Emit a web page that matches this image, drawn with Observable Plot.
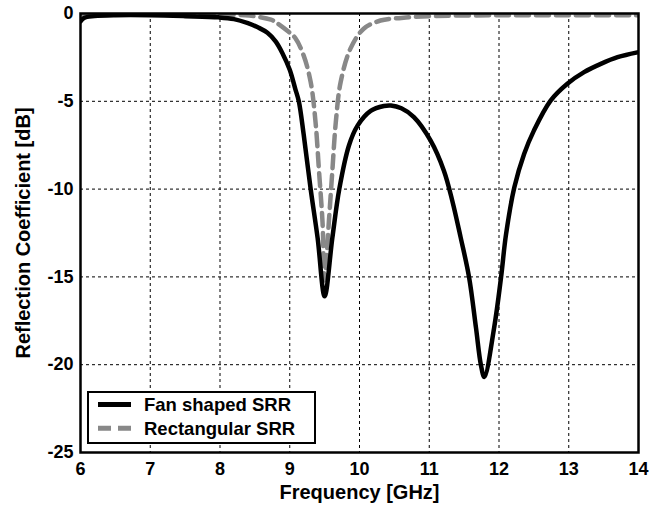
<!DOCTYPE html>
<html><head><meta charset="utf-8">
<script src="https://cdn.jsdelivr.net/npm/d3@7"></script>
<script src="https://cdn.jsdelivr.net/npm/@observablehq/plot@0.6"></script>
<style>body{margin:0;background:#fff;} svg{font-family:"Liberation Sans",Arial,sans-serif;}</style>
</head><body><div id="chart"></div>
<script>
// Fan shaped SRR (black solid)
const fanFreq = [6.0, 6.05, 6.2, 6.5, 7.0, 7.5, 7.98, 8.2, 8.4, 8.55, 8.68, 8.8, 8.9, 9.0, 9.08, 9.13, 9.2, 9.3, 9.4, 9.5, 9.61, 9.71, 9.85, 9.97, 10.16, 10.35, 10.45, 10.6, 10.78, 11.02, 11.21, 11.33, 11.45, 11.57, 11.67, 11.74, 11.79, 11.93, 12.03, 12.1, 12.22, 12.36, 12.5, 12.74, 12.98, 13.22, 13.46, 13.7, 14.0];
const fanDb   = [-0.45, -0.25, -0.15, -0.1, -0.1, -0.15, -0.22, -0.32, -0.55, -0.8, -1.1, -1.6, -2.3, -3.2, -4.3, -5.0, -6.9, -10.0, -12.8, -16.1, -12.8, -10.0, -7.5, -6.4, -5.55, -5.27, -5.24, -5.4, -5.9, -7.24, -8.95, -10.66, -12.75, -15.0, -17.9, -20.0, -20.7, -17.9, -15.0, -12.6, -9.9, -8.0, -6.67, -4.96, -4.0, -3.34, -2.87, -2.49, -2.2];
// Rectangular SRR (gray dashed)
const rectFreq = [6.0, 7.0, 8.0, 8.42, 8.73, 8.8, 8.97, 9.08, 9.2, 9.3, 9.37, 9.42, 9.47, 9.5, 9.56, 9.61, 9.66, 9.73, 9.87, 10.06, 10.3, 10.6, 11.0, 12.0, 13.0, 14.0];
const rectDb   = [-0.05, -0.05, -0.07, -0.12, -0.35, -0.5, -1.0, -1.4, -2.4, -3.9, -6.2, -9.0, -11.9, -15.2, -11.9, -9.0, -6.2, -3.9, -2.0, -0.87, -0.4, -0.25, -0.15, -0.1, -0.1, -0.1];

const xTicks = [6, 7, 8, 9, 10, 11, 12, 13, 14];
const yTicks = [0, -5, -10, -15, -20, -25];
const seriesNames = ["Fan shaped SRR", "Rectangular SRR"];
const seriesColors = ["#000000", "#888888"];
const xLabel = "Frequency [GHz]";
const yLabel = "Reflection Coefficient [dB]";

const fan = fanFreq.map((f, i) => ({f, db: fanDb[i]}));
const rect = rectFreq.map((f, i) => ({f, db: rectDb[i]}));

const font = "Liberation Sans, Arial, sans-serif";
const fmt = d => String(d);
const chart = Plot.plot({
  width: 667, height: 507,
  marginLeft: 80, marginRight: 29, marginTop: 13, marginBottom: 55,
  style: {fontFamily: font, background: "#fff", color: "#000", overflow: "visible"},
  x: {domain: [6, 14]},
  y: {domain: [-25, 0]},
  marks: [
    Plot.gridX(xTicks, {stroke: "#000", strokeOpacity: 1, strokeDasharray: "3,3", strokeWidth: 1}),
    Plot.gridY(yTicks, {stroke: "#000", strokeOpacity: 1, strokeDasharray: "3,3", strokeWidth: 1}),
    Plot.line(rect, {x: "f", y: "db", stroke: seriesColors[1], strokeWidth: 4.5, strokeDasharray: "13,7", curve: "catmull-rom", clip: true}),
    Plot.line(fan, {x: "f", y: "db", stroke: seriesColors[0], strokeWidth: 4.5, curve: "catmull-rom", clip: true}),
    Plot.axisX(xTicks, {tickSize: 0, tickPadding: 10, fontSize: 18, fontWeight: "bold", label: null, tickFormat: fmt}),
    Plot.axisY(yTicks, {tickSize: 0, tickPadding: 7, fontSize: 18, fontWeight: "bold", label: null, tickFormat: fmt}),
    Plot.text([xLabel], {frameAnchor: "bottom", dy: 40, fontSize: 20, fontWeight: "bold", lineAnchor: "middle", textAnchor: "middle"}),
    Plot.text([yLabel], {frameAnchor: "left", dx: -57, rotate: -90, fontSize: 20, fontWeight: "bold", lineAnchor: "middle", textAnchor: "middle"}),
    Plot.frame({stroke: "#000", strokeWidth: 2.5})
  ]
});
document.getElementById("chart").appendChild(chart);

// Legend box (layout only)
const svg = d3.select(chart);
const lg = svg.append("g").attr("transform", "translate(88,392)");
lg.append("rect").attr("width", 227).attr("height", 51).attr("fill", "#fff").attr("stroke", "#000").attr("stroke-width", 2);
seriesNames.forEach((name, i) => {
  const y = 12.5 + i * 23.7;
  lg.append("line").attr("x1", 10).attr("x2", 43).attr("y1", y).attr("y2", y)
    .attr("stroke", seriesColors[i]).attr("stroke-width", 5)
    .attr("stroke-dasharray", i === 1 ? "13,7" : null);
  lg.append("text").attr("x", 56).attr("y", y).attr("dy", "0.35em")
    .attr("text-anchor", "start")
    .attr("font-size", 18.5).attr("font-weight", "bold").attr("font-family", font).text(name);
});
</script>
</body></html>
